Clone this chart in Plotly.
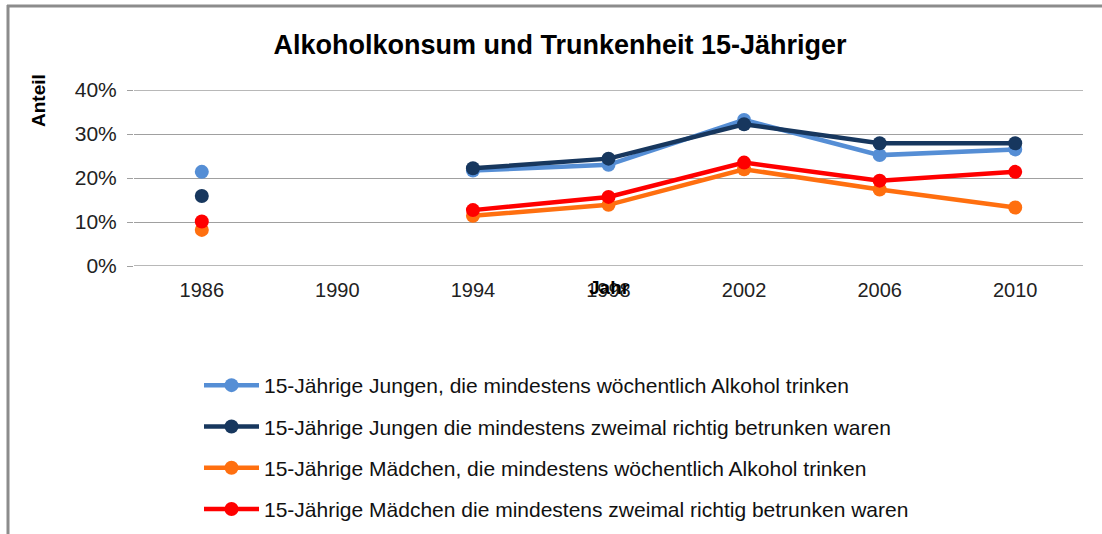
import plotly.graph_objects as go

years = ["1986", "1990", "1994", "1998", "2002", "2006", "2010"]
jungen_woechentlich = [0.214, None, 0.217, 0.230, 0.332, 0.252, 0.265]
jungen_betrunken = [0.159, None, 0.222, 0.244, 0.322, 0.279, 0.279]
maedchen_woechentlich = [0.082, None, 0.114, 0.139, 0.220, 0.174, 0.133]
maedchen_betrunken = [0.101, None, 0.127, 0.157, 0.235, 0.194, 0.214]
y_ticks = [0, 0.1, 0.2, 0.3, 0.4]

names = [
    "15-Jährige Jungen, die mindestens wöchentlich Alkohol trinken",
    "15-Jährige Jungen die mindestens zweimal richtig betrunken waren",
    "15-Jährige Mädchen, die mindestens wöchentlich Alkohol trinken",
    "15-Jährige Mädchen die mindestens zweimal richtig betrunken waren",
]
series = [jungen_woechentlich, jungen_betrunken, maedchen_woechentlich, maedchen_betrunken]
colors = ["#558ED5", "#17375E", "#FF6F0F", "#FF0000"]

FONT = "Liberation Sans, Arial, sans-serif"

fig = go.Figure()
for i, (n, s, c) in enumerate(zip(names, series, colors)):
    fig.add_trace(go.Scatter(
        x=years, y=s, name=n, mode="lines+markers",
        line=dict(color=c, width=4.5),
        marker=dict(color=c, size=14),
        connectgaps=False, legendgroup=f"g{i}",
    ))

# plot area in page pixels: x 134..1083, y 90..266
L, R, T, B = 134, 1083, 90, 266
W, H = R - L, B - T

def px(x):
    return (x - L) / W

def py(y):
    return (B - y) / H

fig.update_layout(
    width=1102, height=534,
    margin=dict(l=L, r=1102 - R, t=T, b=534 - B, autoexpand=False),
    paper_bgcolor="white", plot_bgcolor="white",
    font=dict(family=FONT, size=20, color="#222"),
    title=dict(text="<b>Alkoholkonsum und Trunkenheit 15-Jähriger</b>",
               x=560 / 1102, xanchor="center", y=1 - 45 / 534, yanchor="middle",
               font=dict(family=FONT, size=27, color="#000")),
    xaxis=dict(type="category", categoryorder="array", categoryarray=years,
               range=[-0.5, len(years) - 0.5],
               showgrid=False, showline=False, ticks="", zeroline=False,
               ticklabelstandoff=10,
               tickfont=dict(size=20, color="#222")),
    yaxis=dict(range=[0, 0.4], tickvals=y_ticks, tickformat=".0%",
               showgrid=True, gridcolor="#A0A0A0", gridwidth=1.3,
               zeroline=False, showline=False,
               ticks="outside", ticklen=6, tickcolor="#A0A0A0",
               ticklabelstandoff=6,
               tickfont=dict(size=21, color="#222")),
    showlegend=True,
    legend=dict(x=px(199), y=py(365), xanchor="left", yanchor="top",
                orientation="v", tracegroupgap=11, itemwidth=55,
                font=dict(family=FONT, size=21, color="#111"),
                bgcolor="rgba(0,0,0,0)"),
)

# gridlines at the range edges (0% and 40%)
for v in (y_ticks[0], y_ticks[-1]):
    fig.add_shape(type="line", xref="paper", yref="y", x0=0, x1=1, y0=v, y1=v,
                  line=dict(color="#A0A0A0", width=1.3), layer="below")

fig.add_annotation(text="<b>Anteil</b>", x=px(38), y=py(101), xref="paper", yref="paper",
                   xanchor="center", yanchor="middle",
                   textangle=-90, showarrow=False, font=dict(family=FONT, size=19, color="#000"))
fig.add_annotation(text="<b>Jahr</b>", x=px(609), y=py(287), xref="paper", yref="paper",
                   xanchor="center", yanchor="middle",
                   showarrow=False, font=dict(family=FONT, size=19, color="#000"))

# outer frame lines (left and top)
fig.add_shape(type="line", xref="paper", yref="paper",
              x0=px(8), x1=px(8), y0=py(5), y1=py(540),
              line=dict(color="#8C8C8C", width=3))
fig.add_shape(type="line", xref="paper", yref="paper",
              x0=px(7), x1=px(1110), y0=py(6), y1=py(6),
              line=dict(color="#8C8C8C", width=3))

fig.write_html("out.html", config={"displayModeBar": False},
               post_script="document.body.style.margin='0';document.body.style.overflow='hidden';")
